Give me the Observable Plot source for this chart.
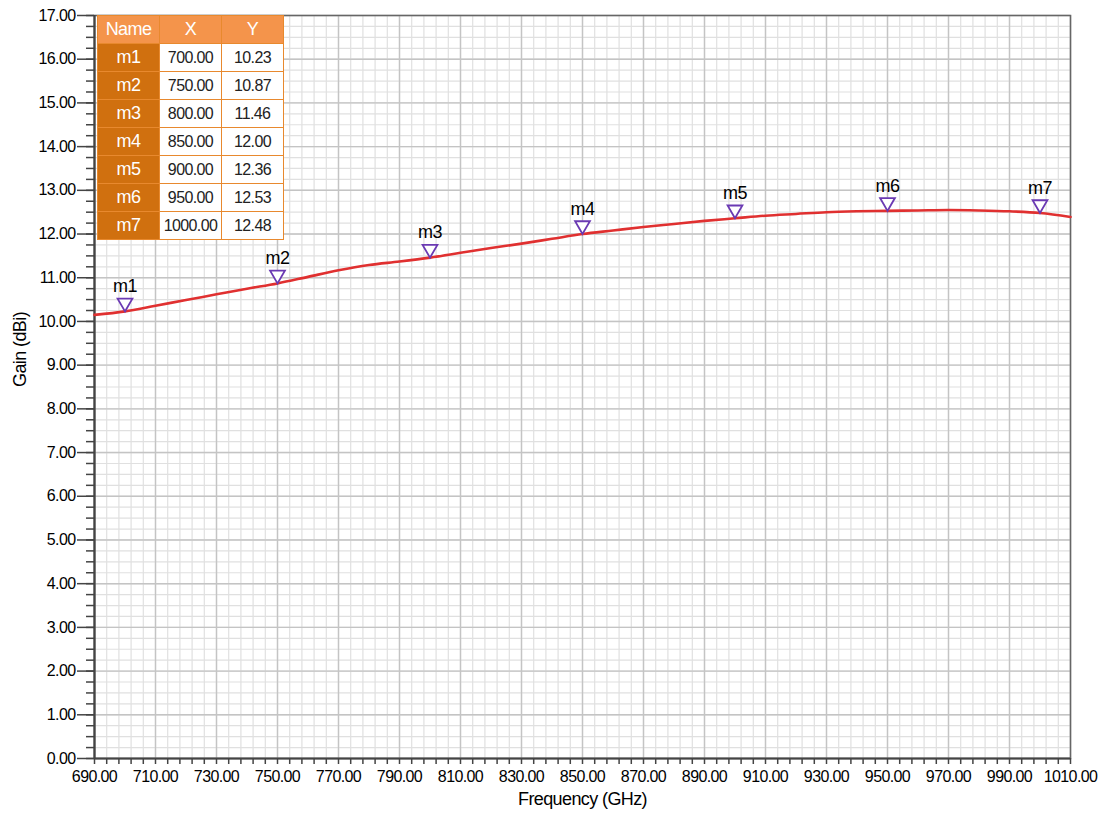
<!DOCTYPE html>
<html>
<head>
<meta charset="utf-8">
<script src="https://cdn.jsdelivr.net/npm/d3@7"></script>
<script src="https://cdn.jsdelivr.net/npm/@observablehq/plot@0.6"></script>
<style>
  html, body { margin: 0; padding: 0; background: #fff; }
  #wrap { position: relative; width: 1107px; height: 818px; font-family: "Liberation Sans", Arial, sans-serif; }
  #mtable { position: absolute; left: 97px; top: 15px; border-collapse: collapse; font-family: "Liberation Sans", Arial, sans-serif; letter-spacing: -0.6px; }
  #mtable td, #mtable th { border: 1.5px solid #E8892E; height: 27px; padding: 0; text-align: center; }
  #mtable th { background: #F4944B; color: #fff; font-weight: normal; font-size: 18px; }
  #mtable td.nm { background: #D0700F; color: #fff; font-size: 18px; width: 61px; }
  #mtable td.v { background: #fff; color: #222; width: 61px; font-size: 16px; }
</style>
</head>
<body>
<div id="wrap"></div>
<script>
// Curve data
const freq = [690,700,710,720,730,740,750,760,770,780,790,800,810,820,830,840,850,860,870,880,890,900,910,920,930,940,950,960,970,980,990,1000,1010];
const gain = [10.15,10.23,10.36,10.49,10.62,10.75,10.87,11.02,11.17,11.29,11.37,11.46,11.57,11.68,11.78,11.89,12.00,12.08,12.16,12.23,12.30,12.36,12.42,12.46,12.50,12.52,12.53,12.54,12.55,12.54,12.52,12.48,12.39];

// Markers
const markerNames = ["m1","m2","m3","m4","m5","m6","m7"];
const markerX = [700,750,800,850,900,950,1000];
const markerY = [10.23,10.87,11.46,12.00,12.36,12.53,12.48];

// Ticks
const xTickLabels = d3.range(690, 1011, 20);
const xMinor = d3.range(690, 1011, 4);
const yMajor = d3.range(0, 17.01, 1);
const yMinor = d3.range(0, 17.01, 0.25);

const curve = freq.map((f, i) => ({f, g: gain[i]}));
const markers = markerNames.map((n, i) => ({n, x: markerX[i], y: markerY[i]}));

// Downward triangle with its tip at the origin
const downTri = {
  draw(ctx, size) {
    const w = 7.4, h = 12.8;
    ctx.moveTo(0, 0);
    ctx.lineTo(-w, -h);
    ctx.lineTo(w, -h);
    ctx.closePath();
  }
};

const FONT = "Liberation Sans, Arial, sans-serif";

const chart = Plot.plot({
  width: 1107,
  height: 818,
  marginLeft: 94,
  marginRight: 37,
  marginTop: 15,
  marginBottom: 60,
  style: {fontFamily: FONT, fontSize: "16px", color: "#000", background: "#fff", letterSpacing: "-0.6px"},
  x: {domain: [690, 1010]},
  y: {domain: [0, 17]},
  marks: [
    Plot.ruleX(xMinor, {stroke: "#e0e0e0", strokeWidth: 1.2}),
    Plot.ruleY(yMinor, {stroke: "#e0e0e0", strokeWidth: 1.2}),
    Plot.ruleX(xTickLabels, {stroke: "#c4c4c4", strokeWidth: 1.4}),
    Plot.ruleY(yMajor, {stroke: "#c4c4c4", strokeWidth: 1.4}),
    Plot.frame({stroke: "#666", strokeWidth: 1.5}),
    Plot.axisY(yMinor, {tickSize: 8, tickFormat: () => "", stroke: "#444", strokeWidth: 1.5, label: null}),
    Plot.axisY(yMajor, {tickSize: 17, tickPadding: 2, tickFormat: d => d.toFixed(2), stroke: "#444", strokeWidth: 1.5, fill: "#000", fontSize: 16, label: null}),
    Plot.axisX(xMinor, {tickSize: 6, tickFormat: () => "", stroke: "#444", strokeWidth: 1.5, label: null}),
    Plot.axisX(xTickLabels, {tickSize: 0, tickPadding: 12, tickFormat: d => d.toFixed(2), fill: "#000", fontSize: 16, label: null}),
    Plot.ruleX([690], {stroke: "#444", strokeWidth: 2.2}),
    Plot.ruleY([0], {stroke: "#444", strokeWidth: 2.2}),
    Plot.line(curve, {x: "f", y: "g", stroke: "#E03030", strokeWidth: 2.6, curve: "monotone-x"}),
    Plot.dot(markers, {x: "x", y: "y", symbol: downTri, r: 6, fill: "#fff", stroke: "#6B3AB3", strokeWidth: 1.8}),
    Plot.text(markers, {x: "x", y: "y", text: "n", dy: -25, fontSize: 18, fill: "#000"}),
    Plot.text(["Gain (dBi)"], {frameAnchor: "left", dx: -74, rotate: -90, fontSize: 18, fill: "#000"}),
    Plot.text(["Frequency (GHz)"], {frameAnchor: "bottom", dy: 46, fontSize: 18, fill: "#000"})
  ]
});

const wrap = document.getElementById("wrap");
wrap.appendChild(chart);

// Marker table (real text)
const tbl = document.createElement("table");
tbl.id = "mtable";
let html = "<tr><th>Name</th><th>X</th><th>Y</th></tr>";
markers.forEach(m => {
  html += `<tr><td class="nm">${m.n}</td><td class="v">${m.x.toFixed(2)}</td><td class="v">${m.y.toFixed(2)}</td></tr>`;
});
tbl.innerHTML = html;
wrap.appendChild(tbl);
</script>
</body>
</html>
